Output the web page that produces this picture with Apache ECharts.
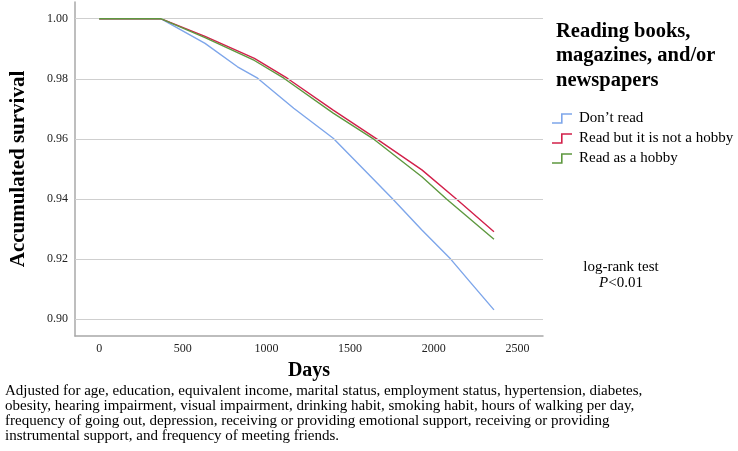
<!DOCTYPE html>
<html>
<head>
<meta charset="utf-8">
<script src="https://cdn.jsdelivr.net/npm/echarts@6/dist/echarts.min.js"></script>
<style>html,body{margin:0;padding:0;background:#fff}#c{width:738px;height:451px}</style>
</head>
<body>
<div id="c"></div>
<script>
// Days / accumulated survival
const dontReadDays = [0, 368, 633, 827, 947, 1163, 1399, 1575, 1752, 1929, 2101, 2223, 2360];
const dontReadSurv = [1.0000, 1.0000, 0.9918, 0.9840, 0.9802, 0.9702, 0.9602, 0.9502, 0.9402, 0.9297, 0.9200, 0.9120, 0.9031];
const notHobbyDays = [0, 368, 633, 928, 1124, 1399, 1654, 1929, 2135, 2360];
const notHobbySurv = [1.0000, 1.0000, 0.9941, 0.9868, 0.9802, 0.9696, 0.9602, 0.9497, 0.9400, 0.9291];
const hobbyDays = [0, 368, 633, 928, 1104, 1399, 1634, 1929, 2076, 2360];
const hobbySurv = [1.0000, 1.0000, 0.9937, 0.9861, 0.9802, 0.9686, 0.9602, 0.9474, 0.9400, 0.9266];
const seriesNames = ["Don\u2019t read", "Read but it is not a hobby", "Read as a hobby"];
const xTicks = [0, 500, 1000, 1500, 2000, 2500];
const yTicks = [0.90, 0.92, 0.94, 0.96, 0.98, 1.00];
const legendTitle = "Reading books,\nmagazines, and/or\nnewspapers";
const footnote = [
  "Adjusted for age, education, equivalent income, marital status, employment status, hypertension, diabetes,",
  "obesity, hearing impairment, visual impairment, drinking habit, smoking habit, hours of walking per day,",
  "frequency of going out, depression, receiving or providing emotional support, receiving or providing",
  "instrumental support, and frequency of meeting friends."
];

const FONT = '"Liberation Serif", "DejaVu Serif", serif';
const zip = (a, b) => a.map((d, i) => [d, b[i]]);
const colors = ['#7ea6ea', '#d2204a', '#5e983f'];
const stepIcon = 'path://M0,9 L9,9 L9,0 L20,0 L20,1.6 L10.6,1.6 L10.6,10.6 L0,10.6 Z';

const chart = echarts.init(document.getElementById('c'), null, {renderer: 'canvas'});
chart.setOption({
  animation: false,
  backgroundColor: '#fff',
  title: {
    text: legendTitle, left: 551, top: 14,
    textStyle: {fontFamily: FONT, fontSize: 20.5, fontWeight: 'bold', color: '#000', lineHeight: 24.5}
  },
  legend: {
    orient: 'vertical', left: 547, top: 106, itemWidth: 20, itemHeight: 11, itemGap: 5,
    icon: stepIcon,
    textStyle: {fontFamily: FONT, fontSize: 15, color: '#000', padding: [0, 0, 0, 2]},
    data: seriesNames
  },
  grid: {left: 68, right: 195, top: 2, bottom: 115},
  xAxis: {
    type: 'value', min: -144.3, max: 2653,
    name: 'Days', nameLocation: 'middle', nameGap: 25,
    nameTextStyle: {fontFamily: FONT, fontSize: 20, fontWeight: 'bold', color: '#000'},
    axisLine: {show: true, onZero: false, lineStyle: {color: '#a8a8a8', width: 1.5}},
    axisTick: {show: false},
    splitLine: {show: false},
    axisLabel: {customValues: xTicks, fontFamily: FONT, fontSize: 12, color: '#222', margin: 7,
      formatter: v => String(v)}
  },
  yAxis: {
    type: 'value', min: 0.89441, max: 1.00556,
    name: 'Accumulated survival', nameLocation: 'middle', nameGap: 46,
    nameTextStyle: {fontFamily: FONT, fontSize: 21, fontWeight: 'bold', color: '#000'},
    axisLine: {show: true, onZero: false, lineStyle: {color: '#a8a8a8', width: 1.5}},
    axisTick: {show: false},
    splitLine: {show: false},
    axisLabel: {customValues: yTicks, fontFamily: FONT, fontSize: 12, color: '#222', margin: 7,
      formatter: v => v.toFixed(2)}
  },
  series: [
    {
      name: seriesNames[0], type: 'line', data: zip(dontReadDays, dontReadSurv),
      showSymbol: false, symbol: 'none', lineStyle: {color: colors[0], width: 1.4}, itemStyle: {color: colors[0]},
      z: 3,
      markLine: {
        silent: true, symbol: 'none', label: {show: false},
        lineStyle: {color: '#cfcfcf', width: 1.2, type: 'solid'},
        data: yTicks.map(v => ({yAxis: v}))
      }
    },
    {
      name: seriesNames[1], type: 'line', data: zip(notHobbyDays, notHobbySurv),
      showSymbol: false, symbol: 'none', lineStyle: {color: colors[1], width: 1.4}, itemStyle: {color: colors[1]}, z: 4
    },
    {
      name: seriesNames[2], type: 'line', data: zip(hobbyDays, hobbySurv),
      showSymbol: false, symbol: 'none', lineStyle: {color: colors[2], width: 1.4}, itemStyle: {color: colors[2]}, z: 5
    }
  ],
  graphic: [
    {type: 'text', x: 621, y: 267, style: {
      text: 'log-rank test', font: '15px ' + FONT, fill: '#000', align: 'center', verticalAlign: 'middle'}},
    {type: 'text', x: 621, y: 283, style: {
      text: '{i|P}<0.01', font: '15px ' + FONT, fill: '#000', align: 'center', verticalAlign: 'middle',
      rich: {i: {fontStyle: 'italic', fontFamily: FONT, fontSize: 15}}}},
    {type: 'text', x: 5, y: 384, style: {
      text: footnote.join('\n'), font: '15px ' + FONT, fill: '#000', lineHeight: 15}}
  ]
});
</script>
</body>
</html>
